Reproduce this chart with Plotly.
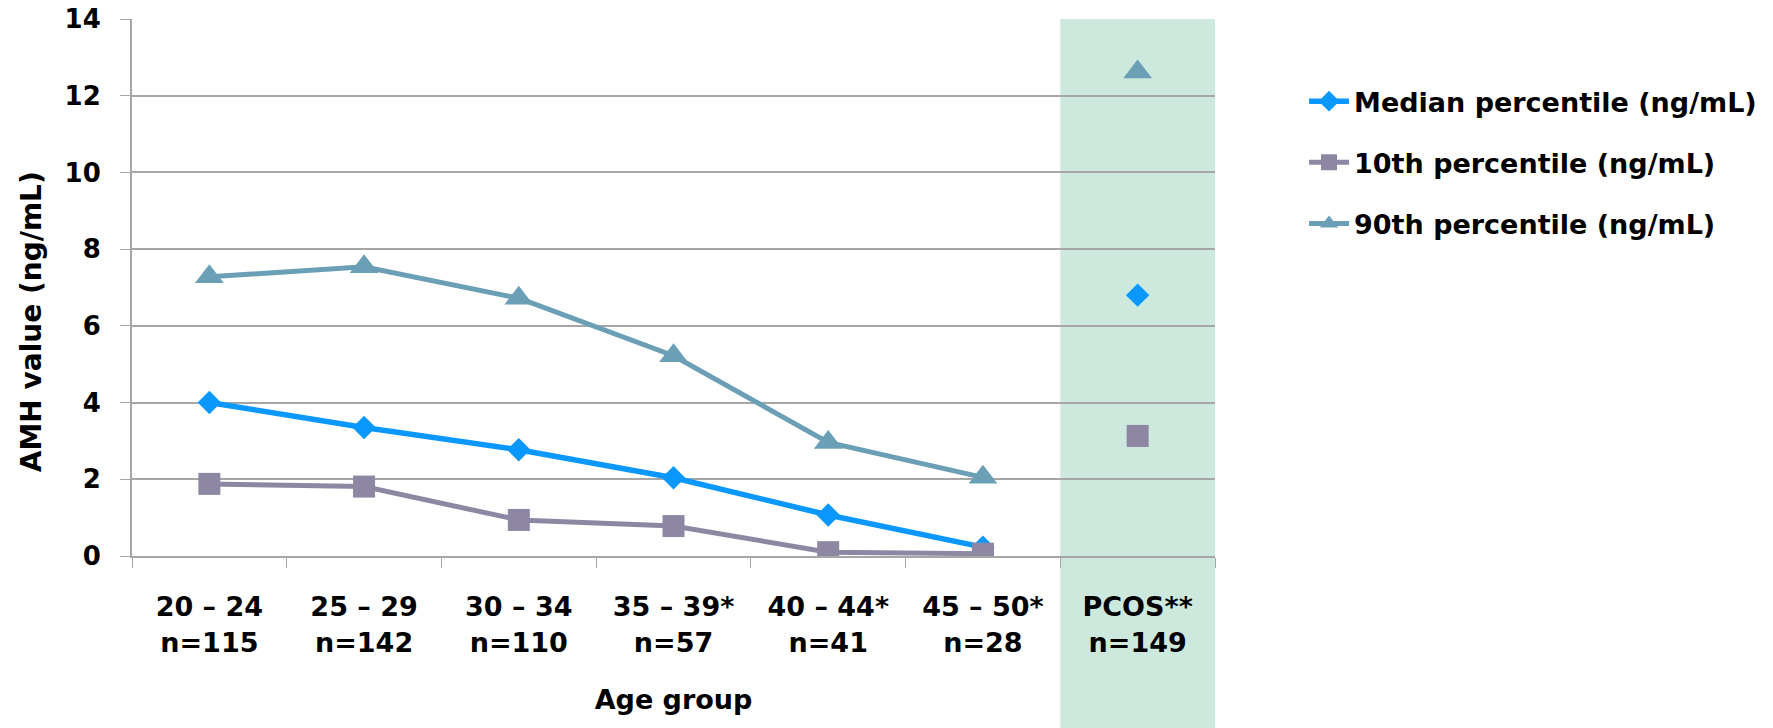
import plotly.graph_objects as go

# Age groups and sample sizes (x-axis categories)
age_groups = ["20 – 24", "25 – 29", "30 – 34", "35 – 39*", "40 – 44*", "45 – 50*"]
age_n = [115, 142, 110, 57, 41, 28]
pcos_group = "PCOS**"
pcos_n = 149

# AMH percentiles by age group (ng/mL)
median_age = [4.0, 3.35, 2.77, 2.04, 1.07, 0.23]
p10_age = [1.88, 1.81, 0.94, 0.78, 0.10, 0.06]
p90_age = [7.28, 7.54, 6.72, 5.22, 2.96, 2.05]

# AMH percentiles for the PCOS group (ng/mL)
median_pcos = 6.8
p10_pcos = 3.13
p90_pcos = 12.62

y_ticks = [0, 2, 4, 6, 8, 10, 12, 14]

FONT = "DejaVu Sans"
GRID = "#A6A6A6"

age_labels = [f"{g}<br>n={n}" for g, n in zip(age_groups, age_n)]
pcos_label = f"{pcos_group}<br>n={pcos_n}"
all_labels = age_labels + [pcos_label]

series = [
    ("Median percentile (ng/mL)", median_age, median_pcos, "#0A98FF", "diamond", 18, 5.5),
    ("10th percentile (ng/mL)", p10_age, p10_pcos, "#8E87A3", "square", 22, 5),
    ("90th percentile (ng/mL)", p90_age, p90_pcos, "#6A9FB5", "triangle-up", 25, 5),
]

fig = go.Figure()
for i, (name, vals, pcos_val, color, symbol, msize, lw) in enumerate(series):
    group = f"g{i}"
    fig.add_trace(go.Scatter(
        x=age_labels, y=vals, name=name, mode="lines+markers",
        legendgroup=group,
        line=dict(color=color, width=lw),
        marker=dict(symbol=symbol, size=msize, color=color),
        hoverinfo="x+y",
    ))
    fig.add_trace(go.Scatter(
        x=[pcos_label], y=[pcos_val], name=name, mode="markers",
        legendgroup=group, showlegend=False,
        marker=dict(symbol=symbol, size=msize, color=color),
        hoverinfo="x+y",
    ))

# Shaded band behind the PCOS category, running down past the axis labels
fig.add_shape(
    type="rect", xref="x", yref="paper",
    x0=len(age_labels) - 0.5, x1=len(age_labels) + 0.5,
    y0=-0.34, y1=1.0,
    fillcolor="#CDE9DE", line_width=0, layer="below",
)

# Rotated y-axis title
fig.add_annotation(
    text="AMH value (ng/mL)", textangle=-90,
    xref="paper", yref="paper", x=-0.092, y=0.436,
    xanchor="center", yanchor="middle",
    showarrow=False, font=dict(family=FONT, size=28, color="black", weight="bold"),
)

fig.update_layout(
    width=1773, height=728,
    margin=dict(l=132, r=558, t=19, b=172, autoexpand=False),
    paper_bgcolor="white", plot_bgcolor="rgba(0,0,0,0)",
    font=dict(family=FONT, color="black", weight="bold"),
    showlegend=True,
    legend=dict(
        xref="container", yref="container",
        x=0.7355, y=0.894, xanchor="left", yanchor="top",
        font=dict(family=FONT, size=27, color="black", weight="bold"),
        tracegroupgap=23, bgcolor="rgba(0,0,0,0)",
        itemwidth=40,
    ),
    xaxis=dict(
        type="category", categoryorder="array", categoryarray=all_labels,
        range=[-0.5, len(all_labels) - 0.5], automargin=False,
        tickson="boundaries", ticks="outside", ticklen=10, tickcolor=GRID,
        showline=True, linecolor=GRID, linewidth=2,
        showgrid=False, zeroline=False,
        tickfont=dict(family=FONT, size=27, color="black", weight="bold"),
        ticklabelstandoff=26,
        title=dict(text="Age group", standoff=34,
                   font=dict(family=FONT, size=27, color="black", weight="bold")),
    ),
    yaxis=dict(
        range=[0, 14], tickvals=y_ticks, automargin=False,
        ticks="outside", ticklen=10, tickcolor=GRID,
        showline=True, linecolor=GRID, linewidth=2,
        showgrid=True, gridcolor=GRID, gridwidth=2, zeroline=False,
        tickfont=dict(family=FONT, size=26, color="black", weight="bold"),
        ticklabelstandoff=14,
    ),
)

fig.write_html("out.html")
